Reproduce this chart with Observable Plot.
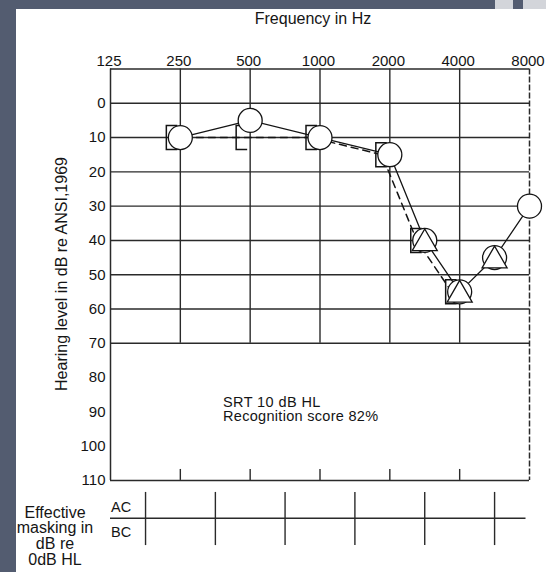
<!DOCTYPE html>
<html>
<head>
<meta charset="utf-8">
<script src="https://cdn.jsdelivr.net/npm/d3@7"></script>
<script src="https://cdn.jsdelivr.net/npm/@observablehq/plot@0.6"></script>
<style>
html, body { margin: 0; padding: 0; background: #535c70; }
#wrap { position: relative; width: 546px; height: 572px; overflow: hidden; font-family: "Liberation Sans", Arial, sans-serif; color: #151515; }
#paper { position: absolute; left: 16px; top: 9px; right: 0; bottom: 0; background: #ffffff; }
.sq { position: absolute; top: 0; height: 9px; background: #d3d5da; }
#chart { position: absolute; left: 0; top: 0; }
.t { position: absolute; white-space: nowrap; line-height: 1; }
</style>
</head>
<body>
<div id="wrap">
  <div id="paper"></div>
  <div class="sq" style="left:495px;width:18px"></div>
  <div class="sq" style="left:523px;width:23px"></div>
  <div id="chart"></div>
  <div class="t" style="font-size:16px;left:313px;top:10.5px;transform:translateX(-50%)">Frequency in Hz</div>
  <div class="t" style="font-size:16px;left:61.5px;top:273.5px;transform:translate(-50%,-50%) rotate(-90deg)">Hearing level in dB re ANSI,1969</div>
  <div class="t" style="font-size:14.5px;left:223px;top:394.5px;letter-spacing:0.4px">SRT 10 dB HL</div>
  <div class="t" style="font-size:14.5px;left:223px;top:409px;letter-spacing:0.3px">Recognition score 82%</div>
  <div class="t" style="font-size:14.5px;left:111px;top:499.5px">AC</div>
  <div class="t" style="font-size:14.5px;left:111px;top:524.5px">BC</div>
  <div class="t" style="font-size:16px;left:55px;top:504.5px;transform:translateX(-50%);text-align:center;line-height:15.8px">Effective<br>masking in<br>dB re<br>0dB HL</div>
</div>
<script>
// ---- data ----
const freqTickLabels = [125, 250, 500, 1000, 2000, 4000, 8000];
const dbTickLabels = [0, 10, 20, 30, 40, 50, 60, 70, 80, 90, 100, 110];
const gridDb = [0, 10, 20, 30, 40, 50, 60, 70];
const gridFreqs = [250, 500, 1000, 2000, 4000];
const maskDividerFreqs = [177, 354, 707, 1414, 2828, 5657];

// air conduction (circles)
const acFreq = [250, 500, 1000, 2000, 3000, 4000, 6000, 8000];
const acDb   = [10, 5, 10, 15, 40, 55, 45, 30];
// masked air conduction (triangles)
const maskedAcFreq = [3000, 4000, 6000];
const maskedAcDb   = [40, 55, 45];
// masked bone conduction ( [ brackets ), dashed line
const bcFreq = [250, 500, 1000, 2000, 3000, 4000];
const bcDb   = [10, 10, 10, 15, 40, 55];

// audiogram convention: inter-octave frequencies sit half way between octaves
const halfOctave = {3000: 4.5, 6000: 5.5};
const oct = f => halfOctave[f] !== undefined ? halfOctave[f] : Math.log2(f / 125);

const ac = acFreq.map((f, i) => ({f, db: acDb[i]}));
const mac = maskedAcFreq.map((f, i) => ({f, db: maskedAcDb[i]}));
const bc = bcFreq.map((f, i) => ({f, db: bcDb[i]}));

const bracket = {
  draw(context, size) {
    const s = Math.sqrt(size / Math.PI) / 12;
    context.moveTo(-3 * s, -12 * s);
    context.lineTo(-14 * s, -12 * s);
    context.lineTo(-14 * s, 12 * s);
    context.lineTo(-3 * s, 12 * s);
  }
};

const ink = "#141414";
const gridInk = "#2a2a2a";

const chart = Plot.plot({
  width: 546,
  height: 572,
  marginLeft: 110,
  marginRight: 17,
  marginTop: 68.5,
  marginBottom: 23.5,
  style: {background: "transparent", fontFamily: "Liberation Sans, Arial, sans-serif", color: ink},
  x: {type: "linear", domain: [0, 6], axis: null},
  y: {type: "linear", domain: [-10, 130], reverse: true, axis: null},
  marks: [
    // grid
    Plot.ruleY(gridDb, {y: d => d, x1: 0, x2: 6, stroke: gridInk, strokeWidth: 1.4}),
    Plot.ruleX(gridFreqs, {x: d => oct(d), y1: -10, y2: 70, stroke: gridInk, strokeWidth: 1.4}),
    // frame
    Plot.ruleX([125], {x: d => oct(d), y1: -10, y2: 110, stroke: gridInk, strokeWidth: 1.5}),
    Plot.ruleX([8000], {x: d => oct(d), y1: -10, y2: 110, stroke: gridInk, strokeWidth: 1.5, strokeDasharray: "6,2"}),
    Plot.ruleY([-10, 110], {y: d => d, x1: 0, x2: 6, stroke: gridInk, strokeWidth: 1.5}),
    // bottom ticks
    Plot.ruleX(gridFreqs, {x: d => oct(d), y1: 106.8, y2: 110, stroke: gridInk, strokeWidth: 1.4}),
    // masking table
    Plot.ruleY([121], {y: d => d, x1: 0, x2: 5.95, stroke: gridInk, strokeWidth: 1.5}),
    Plot.ruleX(maskDividerFreqs, {x: d => oct(d), y1: 113.5, y2: 129, stroke: gridInk, strokeWidth: 1.4}),
    // tick labels
    Plot.text(freqTickLabels, {x: d => oct(d), frameAnchor: "top", dy: -13.5, dx: -1.5, text: d => String(d), fontSize: 15, fill: ink}),
    Plot.text(dbTickLabels, {y: d => d, frameAnchor: "left", dx: -5, textAnchor: "end", text: d => String(d), fontSize: 15, fill: ink}),
    // bone conduction dashed line
    Plot.line(bc, {x: d => oct(d.f), y: "db", dx: -8, stroke: ink, strokeWidth: 1.5, strokeDasharray: "7,5"}),
    // air conduction solid line
    Plot.line(ac, {x: d => oct(d.f), y: "db", stroke: ink, strokeWidth: 1.3}),
    // brackets
    Plot.dot(bc, {x: d => oct(d.f), y: "db", symbol: bracket, r: 12, fill: "none", stroke: ink, strokeWidth: 1.5}),
    // circles
    Plot.dot(ac, {x: d => oct(d.f), y: "db", r: 12, fill: "white", stroke: ink, strokeWidth: 1.3}),
    // triangles
    Plot.dot(mac, {x: d => oct(d.f), y: "db", symbol: "triangle", r: 9.3, dy: 3, fill: "white", stroke: ink, strokeWidth: 1.3})
  ]
});
document.getElementById("chart").appendChild(chart);
</script>
</body>
</html>
